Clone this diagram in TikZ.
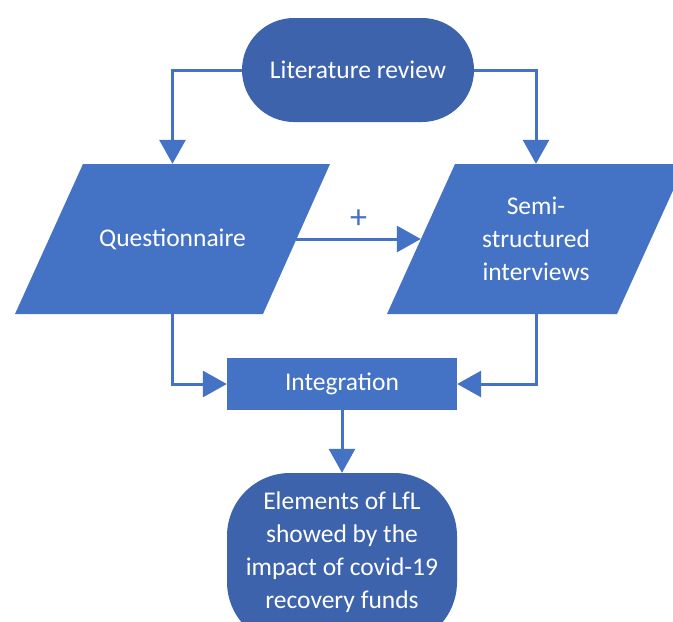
\documentclass[tikz,border=0pt]{standalone}
\usepackage{fontspec}
\setmainfont{Carlito}
\usetikzlibrary{arrows.meta,calc}
\definecolor{officeblue}{HTML}{4472C4}
\definecolor{deepblue}{HTML}{3E63AD}

\begin{document}
\begin{tikzpicture}[x=1pt,y=-1pt,
  every node/.style={font=\fontsize{25.5}{33}\selectfont, text=white, inner sep=0pt, align=center},
  flow/.style={draw=officeblue, line width=3pt, -{Triangle[length=24pt,width=26pt]}},
  pill/.style={fill=deepblue, minimum width=232pt, minimum height=104pt, rounded corners=52pt},
  slot/.style={minimum width=#1, minimum height=150pt},
  stage/.style={fill=officeblue, minimum width=230pt, minimum height=52pt},
  goal/.style={fill=deepblue, minimum width=230pt, minimum height=172pt, rounded corners=63pt}
]
\clip (0,0) rectangle (673,622);
\fill[white] (0,0) rectangle (673,622);

% parallelogram bodies
\fill[officeblue] (83,164) -- (330,164) -- (263,314) -- (15,314) -- cycle;
\fill[officeblue] (455,164) -- (685,164) -- (617,314) -- (387,314) -- cycle;

% nodes
\node[pill] (lit) at (358,70) {Literature review};
\node[slot=247pt] (quest) at (172.5,239) {Questionnaire};
\node[slot=230pt] (semi) at (536,239) {Semi-\\structured\\interviews};
\node[stage] (integ) at (342,384) {Integration};
\node[goal] (elem) at (342,559) {};
\node (elemtext) at (342,552) {Elements of LfL\\showed by the\\impact of covid-19\\recovery funds};

% connectors
\draw[flow] (lit.west) -| (quest.north);
\draw[flow] (lit.east) -| (semi.north);
\draw[flow] (quest.east) -- (semi.west);
\node[text=officeblue, font=\fontsize{34}{34}\selectfont] (plus) at ($(quest.east)!0.5!(semi.west)+(0,-20)$) {+};
\draw[flow] (quest.south) |- (integ.west);
\draw[flow] (semi.south) |- (integ.east);
\draw[flow] (integ.south) -- (elem.north);
\end{tikzpicture}
\end{document}
